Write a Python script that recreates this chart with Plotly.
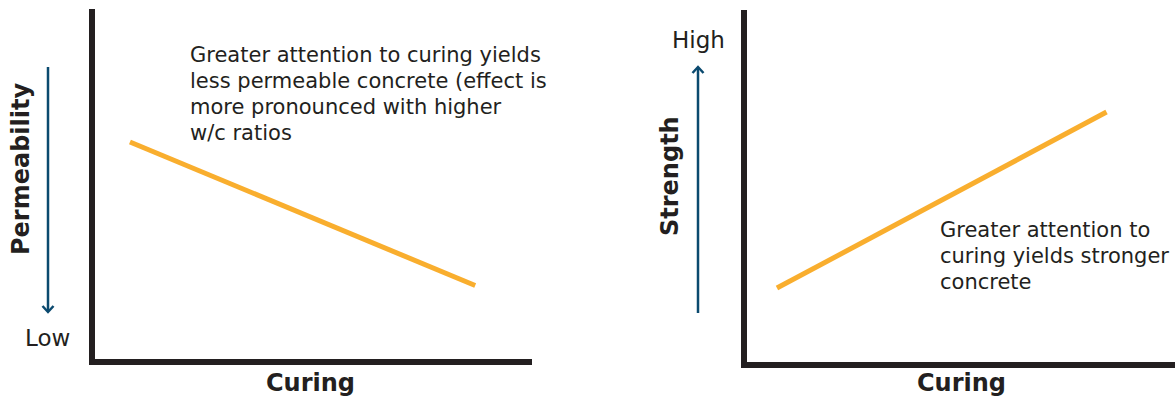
import plotly.graph_objects as go

W, H = 1175, 399

# Curing vs. permeability (left) and curing vs. strength (right), 0-10 scale
curing_perm = [0.8, 8.7]
permeability = [6.2, 2.1]
curing_str = [0.7, 8.4]
strength = [2.1, 7.1]

note_left = ["Greater attention to curing yields",
             "less permeable concrete (effect is",
             "more pronounced with higher",
             "w/c ratios"]
note_right = ["Greater attention to",
              "curing yields stronger",
              "concrete"]

AXIS = "#231F20"
ORANGE = "#F9AE2E"
BLUE = "#0B4A6F"
FONT = "DejaVu Sans"


def px(x):
    return x / W


def py(y):
    return 1 - y / H


fig = go.Figure()
fig.add_trace(go.Scatter(x=curing_perm, y=permeability, mode="lines",
                         line=dict(color=ORANGE, width=5),
                         xaxis="x", yaxis="y", showlegend=False, hoverinfo="skip"))
fig.add_trace(go.Scatter(x=curing_str, y=strength, mode="lines",
                         line=dict(color=ORANGE, width=5),
                         xaxis="x2", yaxis="y2", showlegend=False, hoverinfo="skip"))

axis_common = dict(range=[0, 10], showgrid=False, zeroline=False, showticklabels=False,
                   ticks="", showline=True, linecolor=AXIS, linewidth=6, fixedrange=True)

fig.update_layout(
    width=W, height=H,
    margin=dict(l=0, r=0, t=0, b=0),
    paper_bgcolor="white", plot_bgcolor="white",
    xaxis=dict(domain=[px(95), px(532)], anchor="y", **axis_common),
    yaxis=dict(domain=[py(359), py(9)], anchor="x", **axis_common),
    xaxis2=dict(domain=[px(747), 1.0], anchor="y2", **axis_common),
    yaxis2=dict(domain=[py(362), py(10)], anchor="x2", **axis_common),
)

# Direction arrows beside each y axis
shapes = [
    dict(type="line", xref="paper", yref="paper",
         x0=px(48), x1=px(48), y0=py(67), y1=py(311),
         line=dict(color=BLUE, width=2.5)),
    dict(type="path", xref="paper", yref="paper",
         path=f"M {px(42.5)},{py(306)} L {px(48)},{py(312)} L {px(53.5)},{py(306)}",
         line=dict(color=BLUE, width=2.5)),
    dict(type="line", xref="paper", yref="paper",
         x0=px(698), x1=px(698), y0=py(313), y1=py(68),
         line=dict(color=BLUE, width=2.5)),
    dict(type="path", xref="paper", yref="paper",
         path=f"M {px(692.5)},{py(73)} L {px(698)},{py(67)} L {px(703.5)},{py(73)}",
         line=dict(color=BLUE, width=2.5)),
]

txt = dict(color=AXIS, family=FONT, size=21)
big = dict(color=AXIS, family=FONT, size=23)
bold = dict(color=AXIS, family=FONT, size=24, weight="bold")

annotations = []
for i, line in enumerate(note_left):
    annotations.append(dict(text=line, x=px(188), y=py(55 + 26 * i),
                            xanchor="left", yanchor="middle", font=txt))
for i, line in enumerate(note_right):
    annotations.append(dict(text=line, x=px(938), y=py(230 + 26 * i),
                            xanchor="left", yanchor="middle", font=txt))

annotations += [
    dict(text="Low", x=px(47), y=py(338), xanchor="center", yanchor="middle", font=big),
    dict(text="High", x=px(698), y=py(40), xanchor="center", yanchor="middle", font=big),
    dict(text="Permeability", x=px(21), y=py(169), xanchor="center", yanchor="middle",
         textangle=-90, font=bold),
    dict(text="Strength", x=px(670), y=py(176), xanchor="center", yanchor="middle",
         textangle=-90, font=bold),
    dict(text="Curing", x=px(310), y=py(383), xanchor="center", yanchor="middle", font=bold),
    dict(text="Curing", x=px(961), y=py(383), xanchor="center", yanchor="middle", font=bold),
]
for a in annotations:
    a.update(xref="paper", yref="paper", showarrow=False)

fig.update_layout(shapes=shapes, annotations=annotations)

fig.write_html("out.html", config=dict(displayModeBar=False))
